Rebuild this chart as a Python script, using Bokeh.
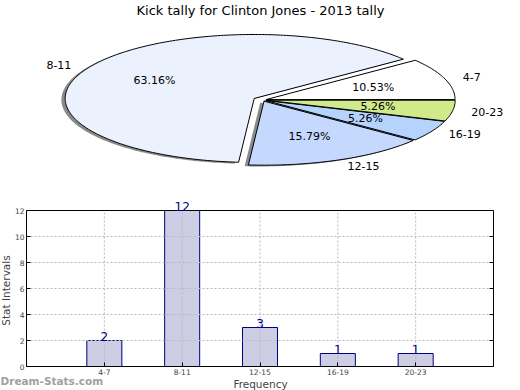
import numpy as np
from bokeh.plotting import figure
from bokeh.models import Range1d, Label, ColumnDataSource, FixedTicker, LinearAxis
from bokeh.layouts import column
from bokeh.embed import file_html
from bokeh.resources import INLINE

# ---------------- data ----------------
title_text = "Kick tally for Clinton Jones - 2013 tally"
categories = ["4-7", "8-11", "12-15", "16-19", "20-23"]
counts = [2, 12, 3, 1, 1]
slice_colors = ["#ffffff", "#ebf2fe", "#c5d9fe", "#b4d4fe", "#cfe98b"]
explode = [0.02, 0.05, 0.02, 0.02, 0.02]
x_label = "Frequency"
y_label = "Stat Intervals"
y_ticks = [0, 2, 4, 6, 8, 10, 12]
watermark = "Dream-Stats.com"

FONT = "DejaVu Sans"
W = 520
PIE_H = 190
BAR_H = 390 - PIE_H

# ---------------- pie ----------------
CX, CY, RX, RY = 262.0, 99.5, 189.0, 64.0   # layout of the ellipse (pixels)
pie = figure(width=W, height=PIE_H, output_backend="svg", toolbar_location=None,
             x_axis_location=None, y_axis_location=None,
             x_range=Range1d(-CX / RX, (W - CX) / RX),
             y_range=Range1d(-(PIE_H - CY) / RY, CY / RY),
             min_border=0)
pie.grid.visible = False
pie.outline_line_color = None

total = float(sum(counts))
fracs = [c / total for c in counts]
starts = np.cumsum([0.0] + fracs[:-1]) * 2 * np.pi
ends = np.cumsum(fracs) * 2 * np.pi

slice_xs, slice_ys, shadow_xs, shadow_ys = [], [], [], []
lab_x, lab_y, lab_align, pct_x, pct_y, pct_text = [], [], [], [], [], []
for i in range(len(counts)):
    a0, a1 = starts[i], ends[i]
    mid = 0.5 * (a0 + a1)
    ox, oy = explode[i] * np.cos(mid), explode[i] * np.sin(mid)
    n = max(8, int((a1 - a0) * 60))
    t = np.linspace(a0, a1, n)
    xs = np.concatenate([[ox], ox + np.cos(t)])
    ys = np.concatenate([[oy], oy + np.sin(t)])
    slice_xs.append(list(xs)); slice_ys.append(list(ys))
    shadow_xs.append(list(xs - 0.02)); shadow_ys.append(list(ys - 0.02))
    lx = ox + 1.1 * np.cos(mid)
    ly = oy + 1.1 * np.sin(mid)
    lab_x.append(lx); lab_y.append(ly)
    lab_align.append("left" if lx > 0 else "right")
    pct_x.append(ox + 0.6 * np.cos(mid)); pct_y.append(oy + 0.6 * np.sin(mid))
    pct_text.append("%.2f%%" % (100 * fracs[i]))

pie.patches(shadow_xs, shadow_ys, fill_color="#8a8a8a", fill_alpha=1.0, line_color=None)
pie.patches(slice_xs, slice_ys, fill_color=slice_colors, line_color="black", line_width=1)

lab_src = ColumnDataSource(dict(x=lab_x, y=lab_y, text=categories, align=lab_align))
pie.text(x="x", y="y", text="text", text_align="align", text_baseline="middle",
         text_font={"value": FONT}, text_font_size="11px", text_color="black",
         source=lab_src)
pct_src = ColumnDataSource(dict(x=pct_x, y=pct_y, text=pct_text))
pie.text(x="x", y="y", text="text", text_align="center", text_baseline="middle",
         text_font={"value": FONT}, text_font_size="11px", text_color="black", source=pct_src)

pie.add_layout(Label(x=260, y=PIE_H - 2, x_units="screen", y_units="screen",
                     text=title_text, text_align="center", text_baseline="top",
                     text_font=FONT, text_font_size="13px", text_color="black"))

# ---------------- bars ----------------
# pixel box of the bar plot inside this figure (left, right, top, bottom)
BL, BR, BT, BB = 26, 493, 210 - PIE_H, 366 - PIE_H
n_slots = len(categories) + 1
px = (BR - BL) / n_slots
py = (BB - BT) / max(counts)

xs_bar = [i + 1 for i in range(len(categories))]
bar = figure(width=W, height=BAR_H, output_backend="svg", toolbar_location=None,
             x_range=Range1d(-BL / px, n_slots + (W - BR) / px),
             y_range=Range1d(-(BAR_H - BB) / py, max(counts) + BT / py),
             min_border=0)
bar.outline_line_color = None
bar.grid.visible = False
bsrc = ColumnDataSource(dict(x=xs_bar, top=counts))
bar.vbar(x="x", top="top", width=0.45, source=bsrc, fill_color="#cdcde4",
         line_color="#000080", line_width=1)

# dotted grid limited to the box
grid_color = "#b8b8b8"
bar.segment(x0=xs_bar, y0=[0] * len(xs_bar), x1=xs_bar, y1=[max(counts)] * len(xs_bar),
            line_color=grid_color, line_dash="2 2", line_width=1)
bar.segment(x0=[0] * len(y_ticks), y0=y_ticks, x1=[n_slots] * len(y_ticks), y1=y_ticks,
            line_color=grid_color, line_dash="2 2", line_width=1)

# box around the plotted area
bar.quad(left=[0], right=[n_slots], bottom=[0], top=[max(counts)],
         fill_color=None, line_color="black", line_width=1)

bar.xaxis.ticker = FixedTicker(ticks=xs_bar)
bar.xaxis.major_label_overrides = {x: c for x, c in zip(xs_bar, categories)}
bar.yaxis.ticker = FixedTicker(ticks=y_ticks)
bar.xaxis.fixed_location = 0
bar.yaxis.fixed_location = 0
for ax in (bar.xaxis[0], bar.yaxis[0]):
    ax.axis_line_color = None
    ax.major_tick_line_color = "black"
    ax.major_tick_in = 4
    ax.major_tick_out = 0
    ax.minor_tick_line_color = None
    ax.major_label_text_font = FONT
    ax.major_label_text_font_size = "7.5px"
    ax.major_label_standoff = 2
    ax.axis_label_text_font = FONT
    ax.axis_label_text_font_size = "10.5px"
    ax.axis_label_text_font_style = "normal"
    ax.axis_label_standoff = 0
bar.xaxis.axis_label = x_label
bar.yaxis.axis_label = y_label

# inward ticks on the right spine
right_axis = LinearAxis(fixed_location=n_slots, ticker=FixedTicker(ticks=y_ticks),
                        axis_line_color=None, major_tick_in=4, major_tick_out=0,
                        minor_tick_line_color=None, major_label_text_font_size="0px",
                        major_label_text_alpha=0)
bar.add_layout(right_axis, "right")

for xv, cv in zip(xs_bar, counts):
    bar.add_layout(Label(x=xv, y=cv, text=str(cv), text_align="center",
                         text_baseline="bottom", text_font=FONT, text_font_size="12px",
                         text_color="#000080"))

bar.add_layout(Label(x=0, y=BAR_H - (386 - PIE_H), x_units="screen", y_units="screen",
                     text=watermark, text_align="left", text_baseline="bottom",
                     text_font=FONT, text_font_size="10.5px", text_font_style="bold",
                     text_color="#a0a0a0"))

layout = column(pie, bar, spacing=0)
open("out.html", "w").write(file_html(layout, INLINE))
